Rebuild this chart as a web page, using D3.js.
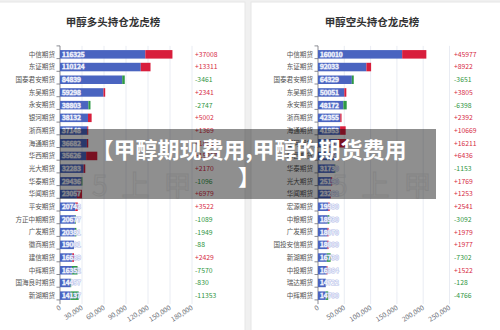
<!DOCTYPE html>
<html><head><meta charset="utf-8">
<script src="https://cdn.jsdelivr.net/npm/d3@7/dist/d3.min.js"></script>
<style>
html,body{margin:0;padding:0;background:#f0f0f0;}
svg{display:block;font-family:"Noto Sans CJK SC","Noto Sans",sans-serif;}
</style></head><body>
<svg id="c" width="500" height="330"></svg>
<script>
const longTitle = "甲醇多头持仓龙虎榜";
const longNames = ["中信期货","东证期货","国泰君安期货","东吴期货","永安期货","银河期货","浙商期货","海通期货","华西期货","光大期货","华泰期货","华闻期货","平安期货","方正中期期货","广发期货","徽商期货","建信期货","中辉期货","国海良时期货","新湖期货"];
const longValues = [116325,110124,84839,59298,38803,38132,37148,36682,35626,32283,29436,23057,20743,20677,20381,19001,16639,16352,14457,14137];
const longChanges = [37008,13311,-3461,2341,-2747,5002,1369,1855,15217,2170,-1096,6979,3522,-1089,-1949,-88,2429,-7570,-830,-11353];
const longTicks = [0,30000,60000,90000,120000,150000,180000];

const shortTitle = "甲醇空头持仓龙虎榜";
const shortNames = ["中信期货","东证期货","国泰君安期货","东吴期货","永安期货","浙商期货","海通期货","银河期货","华西期货","华泰期货","光大期货","华闻期货","宏源期货","中粮期货","广发期货","国投安信期货","新湖期货","中投期货","瑞达期货","中辉期货"];
const shortValues = [160010,92033,64329,50051,48172,42355,41953,37210,33566,31730,25190,23262,19580,18530,18070,18000,16730,16384,14722,14700];
const shortChanges = [45977,8922,-3651,3805,-6398,2392,10669,16211,6436,-1153,1769,1253,2541,-3092,1979,1977,-7302,1522,-128,-4766];
const shortTicks = [0,50000,100000,150000,200000,250000];

const bannerLines = ["【甲醇期现费用,甲醇的期货费用","】"];

const svg = d3.select("#c");
const BLUE="#4a64c0", RED="#d81e3c", GREEN="#2e9a44", UP="#d62a44", DOWN="#2d9440";

// cards
svg.append("rect").attr("x",-2).attr("y",2).attr("width",247).attr("height",340).attr("fill","#fff").attr("stroke","#e6e6e6");
svg.append("rect").attr("x",251).attr("y",2).attr("width",260).attr("height",340).attr("fill","#fff").attr("stroke","#e6e6e6");

function panel(o){
  const g = svg.append("g");
  const x = d3.scaleLinear().domain([0,o.max]).range([o.x0,o.x1]);
  const y = d3.scaleBand().domain(o.names).range([45.9,304.1]).padding(0.33);
  // watermark
  g.append("text").attr("x",o.wx).attr("y",196).attr("font-size",28).attr("fill","none")
   .attr("stroke","#ededed").attr("stroke-width",1).attr("letter-spacing",14).text("5上甲");
  g.append("text").attr("x",o.cx).attr("y",26).attr("text-anchor","middle")
   .attr("font-size",10.5).attr("font-weight","bold").attr("fill","#333").text(o.title);
  // grid
  g.selectAll(".gl").data(o.ticks.slice(1)).join("line")
   .attr("x1",d=>x(d)).attr("x2",d=>x(d)).attr("y1",45.9).attr("y2",304.1)
   .attr("stroke","#e3e7f0").attr("stroke-width",0.8);
  // x labels
  g.selectAll(".xl").data(o.ticks).join("text")
   .attr("transform",d=>`translate(${x(d)+1.5},${309}) rotate(-32)`)
   .attr("text-anchor","end").attr("font-size",6.8).attr("fill","#6e7079")
   .text(d=>d3.format(",")(d));
  // y axis
  g.append("line").attr("x1",o.x0).attr("x2",o.x0).attr("y1",45.9).attr("y2",304.1).attr("stroke","#6e7079").attr("stroke-width",0.8);
  const step = y.step();
  g.selectAll(".tk").data(d3.range(o.names.length+1)).join("line")
   .attr("x1",o.x0-3.5).attr("x2",o.x0).attr("y1",i=>45.9+i*step).attr("y2",i=>45.9+i*step)
   .attr("stroke","#6e7079").attr("stroke-width",0.8);
  g.selectAll(".cl").data(o.names).join("text")
   .attr("x",o.x0-5).attr("y",d=>y(d)+y.bandwidth()/2).attr("dy","0.35em")
   .attr("text-anchor","end").attr("font-size",6.6).attr("fill","#555").text(d=>d);
  const rows = o.names.map((n,i)=>({n,v:o.values[i],c:o.changes[i]}));
  g.selectAll(".b").data(rows).join("rect")
   .attr("x",x(0)).attr("y",d=>y(d.n)).attr("width",d=>x(d.v)-x(0)).attr("height",y.bandwidth()).attr("fill",BLUE);
  g.selectAll(".e").data(rows).join("rect")
   .attr("x",d=>x(d.v)).attr("y",d=>y(d.n)).attr("width",d=>x(d.v+Math.abs(d.c))-x(d.v)).attr("height",y.bandwidth())
   .attr("fill",d=>d.c>=0?RED:GREEN);
  g.selectAll(".vl").data(rows).join("text")
   .attr("x",x(0)+2).attr("y",d=>y(d.n)+y.bandwidth()/2).attr("dy","0.36em")
   .attr("font-size",6.8).attr("fill","#fff").attr("stroke","#b9c3ea").attr("stroke-width",1.2)
   .attr("paint-order","stroke").text(d=>d.v);
  g.selectAll(".ch").data(rows).join("text")
   .attr("x",o.cx2).attr("y",d=>y(d.n)+y.bandwidth()/2).attr("dy","0.36em")
   .attr("font-size",6.8).attr("fill",d=>d.c>=0?UP:DOWN).text(d=>(d.c>=0?"+":"")+d.c);
}
panel({title:longTitle,names:longNames,values:longValues,changes:longChanges,ticks:longTicks,max:180000,x0:60,x1:192,cx:113,cx2:195,wx:92});
panel({title:shortTitle,names:shortNames,values:shortValues,changes:shortChanges,ticks:shortTicks,max:250000,x0:318,x1:449.5,cx:372,cx2:454,wx:332});

// banner
svg.append("rect").attr("x",60).attr("y",129).attr("width",376).attr("height",70).attr("fill","rgba(0,0,0,0.44)");
svg.selectAll(".bn").data(bannerLines).join("text")
 .attr("x",249).attr("y",(d,i)=>158+i*27).attr("text-anchor","middle")
 .attr("font-size",22).attr("font-weight","bold").attr("fill","#fff").text(d=>d);
</script></body></html>
